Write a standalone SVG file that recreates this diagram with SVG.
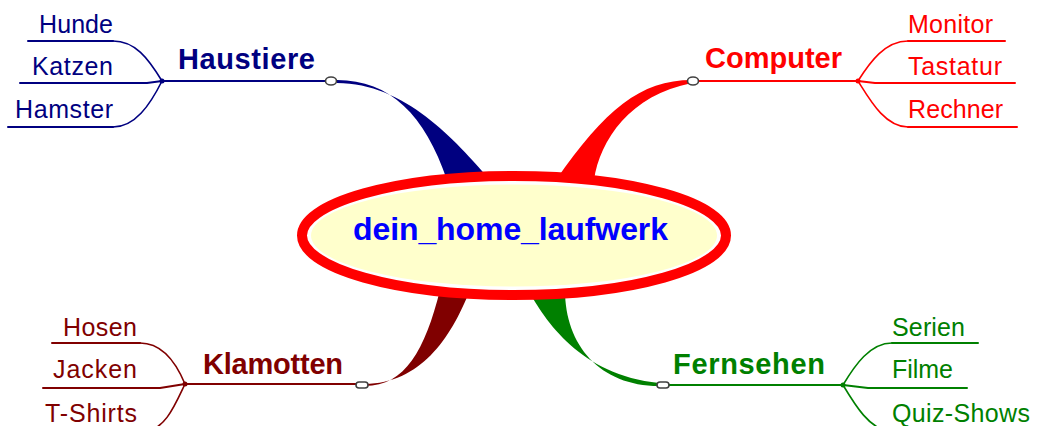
<svg xmlns="http://www.w3.org/2000/svg" width="1037" height="426" viewBox="0 0 1037 426">
<style>
  .lbl { font-family: "Liberation Sans", Arial, sans-serif; font-weight: bold; font-size: 29px; }
  .sub { font-family: "Liberation Sans", Arial, sans-serif; font-size: 25px; }
  .ln { fill: none; stroke-width: 2; stroke-linejoin: round; stroke-linecap: round; }
  .cv { fill: none; stroke-width: 1.6; stroke-linecap: round; }
  .knob { fill: #ffffff; stroke: #404040; stroke-width: 1.6; }
  .navy { stroke: #000080; }
  .red { stroke: #ff0000; }
  .dred { stroke: #800000; }
  .grn { stroke: #008000; }
</style>
<rect width="1037" height="426" fill="#ffffff"/>

<g id="connectors">
  <!-- tapered branches from the centre -->
  <path d="M337,80 C390,80 425,115 447,180 L490,180 C455,140 405,83 337,83 Z" fill="#000080"/>
  <path d="M692,80 C640,80 605,110 556,180 L594,180 C600,140 630,95 692,83 Z" fill="#ff0000"/>
  <path d="M365,386 C405,386 425,350 440,290 L470,290 C450,340 420,383 365,384 Z" fill="#800000"/>
  <path d="M659,386 C600,386 565,345 565,290 L528,290 C545,320 580,375 659,383 Z" fill="#008000"/>

  <!-- Haustiere -->
  <path class="ln navy" d="M162,81 H326"/>
  <path class="ln navy" d="M28,41 H113"/>
  <path class="cv navy" d="M113,41 C135,41 148,58 162,81"/>
  <path class="ln navy" d="M20,83 H147 L162,81"/>
  <path class="ln navy" d="M8,127 H113"/>
  <path class="cv navy" d="M113,127 C135,127 150,105 162,81"/>
  <circle cx="162" cy="81" r="2.5" fill="#000080"/>

  <!-- Computer -->
  <path class="ln red" d="M699,81 H858"/>
  <path class="cv red" d="M858,81 C870,62 885,41 908,41"/>
  <path class="ln red" d="M908,41 H1005"/>
  <path class="ln red" d="M858,81 L875,83 H1015"/>
  <path class="cv red" d="M858,81 C870,100 885,127 908,127"/>
  <path class="ln red" d="M908,127 H1017"/>
  <circle cx="858" cy="81" r="2.5" fill="#ff0000"/>

  <!-- Klamotten -->
  <path class="ln dred" d="M185,384 H356"/>
  <path class="ln dred" d="M52,343 H140"/>
  <path class="cv dred" d="M140,343 C160,343 175,360 185,384"/>
  <path class="ln dred" d="M43,388 H160 L185,384"/>
  <path class="cv dred" d="M185,384 C175,405 165,430 145,431"/>
  <circle cx="185" cy="384" r="2.5" fill="#800000"/>

  <!-- Fernsehen -->
  <path class="ln grn" d="M668,385 H843"/>
  <path class="cv grn" d="M843,385 C855,365 870,343 892,343"/>
  <path class="ln grn" d="M892,343 H978"/>
  <path class="ln grn" d="M843,385 L868,388 H967"/>
  <path class="cv grn" d="M843,385 C855,405 870,430 890,431"/>
  <circle cx="843" cy="385" r="2.5" fill="#008000"/>

  <!-- knobs -->
  <ellipse class="knob" cx="331" cy="81" rx="5.5" ry="4"/>
  <ellipse class="knob" cx="693" cy="81" rx="5.5" ry="4"/>
  <rect class="knob" x="356" y="382" width="12" height="6" rx="3"/>
  <rect class="knob" x="657" y="382" width="12" height="6" rx="3"/>
</g>

<g id="center">
  <ellipse cx="514" cy="235.5" rx="212" ry="59.5" fill="#ffffff" stroke="#ff0000" stroke-width="10"/>
  <ellipse cx="514" cy="235.5" rx="203" ry="51" fill="#ffffcc"/>
  <text x="353" y="240" class="lbl" font-size="32" fill="#0000ff" textLength="315" lengthAdjust="spacing" style="font-size:32px">dein_home_laufwerk</text>
</g>

<g id="haustiere">
  <text x="178" y="69" class="lbl" fill="#000080" textLength="137" lengthAdjust="spacing">Haustiere</text>
</g>
<g id="hunde"><text x="39" y="33" class="sub" fill="#000080" textLength="74" lengthAdjust="spacing">Hunde</text></g>
<g id="katzen"><text x="32" y="75" class="sub" fill="#000080" textLength="81" lengthAdjust="spacing">Katzen</text></g>
<g id="hamster"><text x="15" y="118" class="sub" fill="#000080" textLength="98" lengthAdjust="spacing">Hamster</text></g>

<g id="computer">
  <text x="705" y="68" class="lbl" fill="#ff0000" textLength="137" lengthAdjust="spacing">Computer</text>
</g>
<g id="monitor"><text x="908" y="33" class="sub" fill="#ff0000" textLength="85" lengthAdjust="spacing">Monitor</text></g>
<g id="tastatur"><text x="908" y="75" class="sub" fill="#ff0000" textLength="94" lengthAdjust="spacing">Tastatur</text></g>
<g id="rechner"><text x="908" y="118" class="sub" fill="#ff0000" textLength="95" lengthAdjust="spacing">Rechner</text></g>

<g id="klamotten">
  <text x="203" y="374" class="lbl" fill="#800000" textLength="140" lengthAdjust="spacing">Klamotten</text>
</g>
<g id="hosen"><text x="63" y="336" class="sub" fill="#800000" textLength="74" lengthAdjust="spacing">Hosen</text></g>
<g id="jacken"><text x="53" y="378" class="sub" fill="#800000" textLength="84" lengthAdjust="spacing">Jacken</text></g>
<g id="tshirts"><text x="45" y="422" class="sub" fill="#800000" textLength="92" lengthAdjust="spacing">T-Shirts</text></g>

<g id="fernsehen">
  <text x="673" y="374" class="lbl" fill="#008000" textLength="152" lengthAdjust="spacing">Fernsehen</text>
</g>
<g id="serien"><text x="892" y="336" class="sub" fill="#008000" textLength="73" lengthAdjust="spacing">Serien</text></g>
<g id="filme"><text x="892" y="378" class="sub" fill="#008000" textLength="61" lengthAdjust="spacing">Filme</text></g>
<g id="quizshows"><text x="892" y="422" class="sub" fill="#008000" textLength="138" lengthAdjust="spacing">Quiz-Shows</text></g>
</svg>
